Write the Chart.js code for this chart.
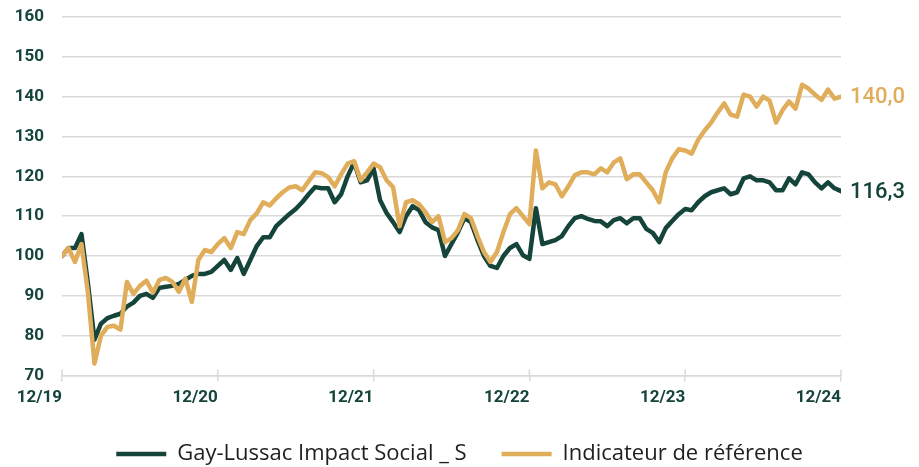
<!DOCTYPE html>
<html>
<head>
<meta charset="utf-8">
<script src="https://cdn.jsdelivr.net/npm/chart.js@4.4.1/dist/chart.umd.min.js"></script>
<style>
  html, body { margin: 0; padding: 0; background: #fff; }
  #wrap { position: relative; width: 919px; height: 467px; }
</style>
</head>
<body>
<div id="wrap"><canvas id="chart"></canvas></div>
<script>
// x axis: months since 12/19, one value every half month
const tickLabels = ['12/19', '12/20', '12/21', '12/22', '12/23', '12/24'];
const seriesNames = ['Gay-Lussac Impact Social _ S', 'Indicateur de référence'];

const fund = [
  100, 102, 102, 105.5, 93, 79, 83, 84.4, 85, 85.5,
  87.3, 88.3, 90, 90.5, 89.5, 92, 92.3, 92.5, 93, 94,
  95, 95.5, 95.5, 96, 97.5, 99, 96.5, 99.5, 95.5, 99,
  102.5, 104.7, 104.7, 107.5, 109, 110.5, 111.8, 113.5, 115.5, 117.3,
  117, 117, 113.5, 115.5, 120, 123.5, 118.5, 119, 122, 114,
  110.8, 108.5, 106, 110, 112.5, 111.5, 108.5, 107.2, 106.5, 100,
  103, 106, 109.5, 108.5, 104, 100, 97.5, 97, 100, 102,
  103, 100.2, 99.3, 112, 103, 103.5, 104, 105, 107.5, 109.5,
  110, 109.3, 108.8, 108.7, 107.5, 109, 109.5, 108.2, 109.5, 109.5,
  106.8, 105.8, 103.5, 107, 108.8, 110.5, 111.8, 111.5, 113.5, 115,
  116, 116.5, 117, 115.5, 116, 119.5, 120, 119, 119, 118.5,
  116.5, 116.5, 119.5, 118, 121, 120.5, 118.5, 117, 118.5, 117,
  116.3
];

const benchmark = [
  100, 102, 98.5, 103, 90.7, 73, 80, 82.2, 82.5, 81.5,
  93.5, 90.5, 92.5, 93.8, 90.8, 94, 94.5, 93.5, 91, 94.3,
  88.5, 99, 101.5, 101, 103, 104.5, 102, 106, 105.5, 109,
  110.7, 113.5, 112.7, 114.5, 116, 117.2, 117.5, 116.5, 118.8, 121,
  120.8, 119.8, 117.5, 120.5, 123.2, 123.8, 119, 121, 123.2, 122.3,
  119, 117.3, 107.5, 113.5, 114, 113, 111, 108.5, 110, 103.5,
  104.5, 106.5, 110.5, 109.5, 105, 101, 98.5, 101, 106, 110.5,
  112, 110, 108, 126.5, 117, 118.5, 118, 115, 117.5, 120.3,
  121, 121, 120.5, 122, 121, 123.5, 124.5, 119.3, 120.5, 120.5,
  118.5, 116.5, 113.5, 121, 124.5, 126.8, 126.5, 125.7, 129.2, 131.5,
  133.5, 136, 138.3, 135.5, 135, 140.5, 140, 137.5, 140, 139,
  133.5, 136.6, 138.8, 137, 143, 142, 140.5, 139.2, 141.8, 139.5,
  140
];

const GREEN = '#14443a';
const GOLD = '#e0ad5a';
const GRID = '#d9d9d9';

const toPoints = arr => arr.map((v, i) => ({ x: i / 2, y: v }));

// last value written at the end of each line, plus small tick marks above the x axis
const endLabels = {
  id: 'endLabels',
  afterDatasetsDraw(chart) {
    const ctx = chart.ctx;
    const xs = chart.scales.x;
    const bottom = chart.chartArea.bottom;
    ctx.save();
    ctx.strokeStyle = GRID;
    ctx.lineWidth = 1.5;
    xs.ticks.forEach(t => {
      const px = xs.getPixelForValue(t.value);
      ctx.beginPath();
      ctx.moveTo(px, bottom - 6);
      ctx.lineTo(px, bottom);
      ctx.stroke();
    });
    chart.data.datasets.forEach((ds, i) => {
      const meta = chart.getDatasetMeta(i);
      const pt = meta.data[meta.data.length - 1];
      const val = ds.data[ds.data.length - 1].y;
      ctx.font = '500 22px Roboto';
      ctx.fillStyle = ds.borderColor;
      ctx.textAlign = 'left';
      ctx.textBaseline = 'middle';
      ctx.fillText(val.toFixed(1).replace('.', ','), pt.x + 9, pt.y + 1);
    });
    ctx.restore();
  }
};

new Chart(document.getElementById('chart'), {
  type: 'line',
  data: {
    datasets: [
      {
        label: seriesNames[0],
        data: toPoints(fund),
        borderColor: GREEN,
        backgroundColor: GREEN,
        borderWidth: 4.5,
        borderCapStyle: 'round',
        borderJoinStyle: 'round',
        pointRadius: 0,
        tension: 0,
        order: 1
      },
      {
        label: seriesNames[1],
        data: toPoints(benchmark),
        borderColor: GOLD,
        backgroundColor: GOLD,
        borderWidth: 4.5,
        borderCapStyle: 'round',
        borderJoinStyle: 'round',
        pointRadius: 0,
        tension: 0,
        order: 0
      }
    ]
  },
  options: {
    responsive: true,
    maintainAspectRatio: false,
    animation: false,
    layout: { padding: { top: 17, right: 0, bottom: -8, left: 0 } },
    plugins: {
      tooltip: { enabled: false },
      legend: {
        position: 'bottom',
        labels: {
          usePointStyle: true,
          pointStyle: 'line',
          pointStyleWidth: 50,
          padding: 35,
          color: '#1e1e1e',
          font: { family: 'Open Sans', size: 22 },
          sort: (a, b) => a.datasetIndex - b.datasetIndex
        }
      }
    },
    scales: {
      x: {
        type: 'linear',
        min: 0,
        max: 60,
        afterFit: s => { s.height = 32.5; },
        ticks: {
          stepSize: 12,
          align: 'end',
          padding: 6,
          maxRotation: 0,
          color: GREEN,
          font: { family: 'Roboto', size: 17, weight: 'bold' },
          callback: v => tickLabels[v / 12]
        },
        grid: { drawOnChartArea: false, tickLength: 6, color: GRID, lineWidth: 1.5 },
        border: { color: GRID, width: 1.5 }
      },
      y: {
        min: 70,
        max: 160,
        afterFit: s => { s.width = 62; },
        ticks: {
          stepSize: 10,
          padding: 2,
          color: GREEN,
          font: { family: 'Roboto', size: 17, weight: 'bold' }
        },
        grid: { color: GRID, lineWidth: 1.5, drawTicks: true, tickLength: 16, tickColor: 'rgba(0,0,0,0)' },
        border: { display: false }
      },
      // empty right-hand space for the end-of-line values
      yRight: {
        position: 'right',
        min: 70,
        max: 160,
        afterFit: s => { s.width = 78; },
        ticks: { display: false },
        grid: { display: false },
        border: { display: false }
      }
    }
  },
  plugins: [endLabels]
});
</script>
</body>
</html>
